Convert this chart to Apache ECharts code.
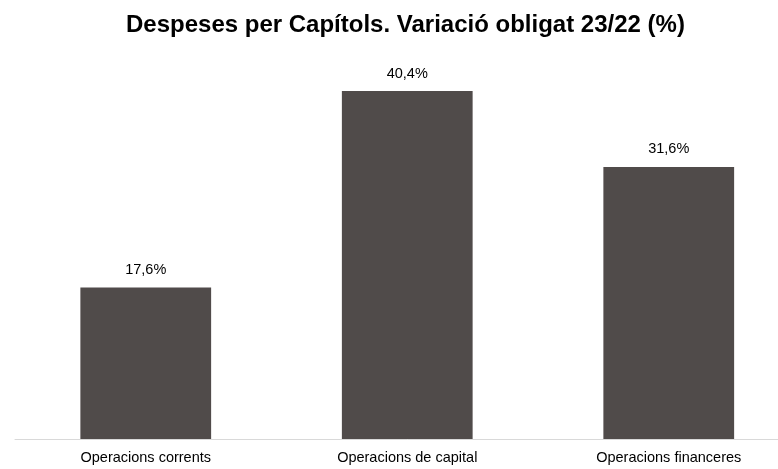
<!DOCTYPE html>
<html><head><meta charset="utf-8">
<script src="https://cdn.jsdelivr.net/npm/echarts@6/dist/echarts.min.js"></script>
<style>html,body{margin:0;padding:0;background:#fff;overflow:hidden;width:778px;height:469px}#c{width:800px;height:469px}</style>
</head><body><div id="c"></div>
<script>
const categories = ['Operacions corrents', 'Operacions de capital', 'Operacions financeres'];
const values = [17.6, 40.4, 31.6];
const titleText = 'Despeses per Capítols. Variació obligat 23/22 (%)';

const chart = echarts.init(document.getElementById('c'));
chart.setOption({
  animation: false,
  title: {
    text: titleText, left: 121, top: 8,
    textStyle: { fontFamily: 'Liberation Sans', fontWeight: 'bold', fontSize: 24, color: '#000' }
  },
  grid: { left: 15, right: 0.5, top: 51.5, bottom: 30 },
  xAxis: {
    type: 'category', data: categories,
    axisLine: { lineStyle: { color: '#d9d9d9', width: 1 } },
    axisTick: { show: false },
    axisLabel: { fontFamily: 'Liberation Sans', fontSize: 14.5, color: '#000', margin: 11 }
  },
  yAxis: { type: 'value', min: 0, max: 45, show: false, splitLine: { show: false } },
  series: [{
    type: 'bar', data: values, barWidth: '50%',
    itemStyle: { color: '#504b4a' },
    label: {
      show: true, position: 'top', distance: 10,
      fontFamily: 'Liberation Sans', fontSize: 14.5, color: '#000',
      formatter: p => p.value.toFixed(1).replace('.', ',') + '%'
    }
  }]
});
</script></body></html>
